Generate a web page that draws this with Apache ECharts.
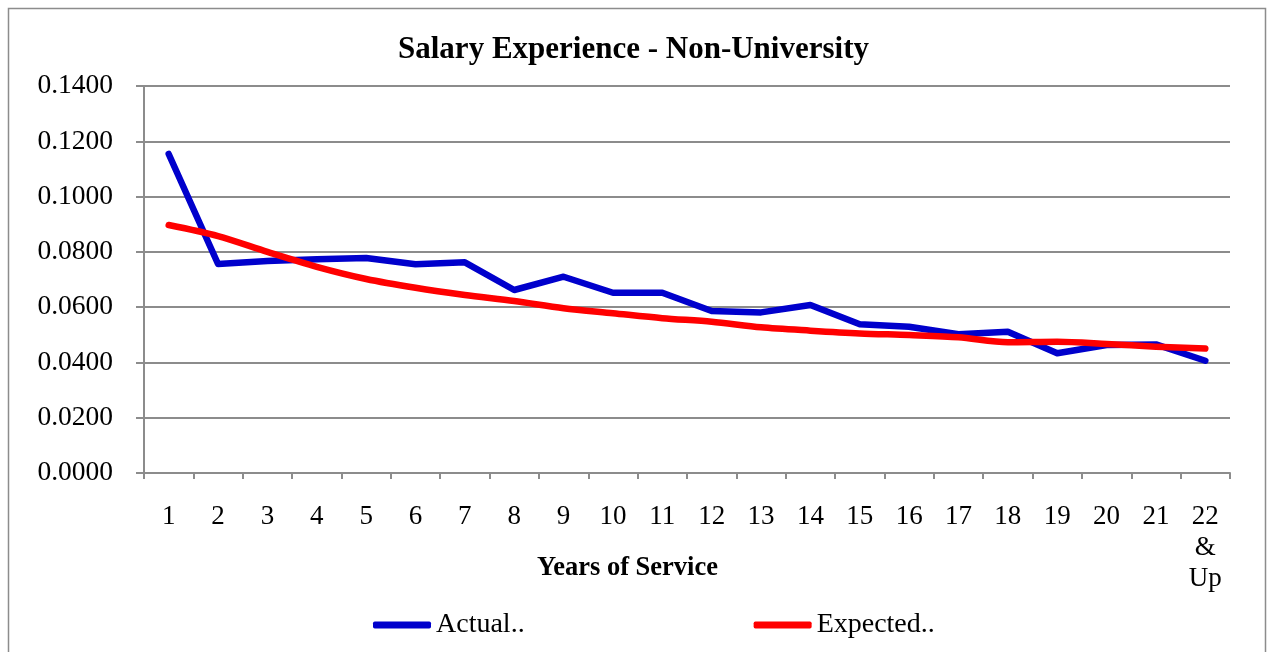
<!DOCTYPE html>
<html>
<head>
<meta charset="utf-8">
<script src="https://cdn.jsdelivr.net/npm/echarts@6/dist/echarts.min.js"></script>
<style>
  html, body { margin: 0; padding: 0; background: #fff; }
  #chart { width: 1267px; height: 652px; }
</style>
</head>
<body>
<div id="chart"></div>
<script>
// years of service
const years = ['1', '2', '3', '4', '5', '6', '7', '8', '9', '10', '11',
               '12', '13', '14', '15', '16', '17', '18', '19', '20', '21', '22\n&\nUp']

const actual = [0.1154, 0.0756, 0.0767, 0.0773, 0.0778, 0.0755, 0.0762, 0.0662, 0.0710, 0.0652, 0.0652,
                0.0586, 0.0581, 0.0608, 0.0538, 0.0529, 0.0502, 0.0511, 0.0433, 0.0463, 0.0465, 0.0406]

const expected = [0.0897, 0.0857, 0.0800, 0.0746, 0.0702, 0.0670, 0.0644, 0.0622, 0.0596, 0.0578, 0.0560,
                  0.0547, 0.0527, 0.0515, 0.0505, 0.0499, 0.0491, 0.0473, 0.0475, 0.0467, 0.0457, 0.0450]

const serif = '"Liberation Serif", "DejaVu Serif", serif'
const gray = '#8c8c8c'

const myChart = echarts.init(document.getElementById('chart'))

const option = {
    backgroundColor: '#fff',
    animation: false,
    textStyle: { fontFamily: serif, color: '#000' },
    title: [
        {
            text: 'Salary Experience - Non-University',
            left: 'center',
            top: 29,
            textStyle: { fontFamily: serif, fontSize: 31, fontWeight: 'bold', color: '#000' }
        },
        {
            text: 'Years of Service',
            left: 532,
            top: 550,
            textStyle: { fontFamily: serif, fontSize: 26.5, fontWeight: 'bold', color: '#000' }
        }
    ],
    graphic: [
        {
            type: 'rect',
            shape: { x: 8.5, y: 8.5, width: 1257, height: 700 },
            style: { fill: 'none', stroke: gray, lineWidth: 1.5 },
            silent: true
        }
    ],
    legend: {
        left: 368,
        top: 606,
        itemWidth: 58,
        itemHeight: 7,
        itemGap: 229,
        icon: 'roundRect',
        textStyle: { fontFamily: serif, fontSize: 28, color: '#000' },
        data: ['Actual..', 'Expected..']
    },
    grid: {
        left: 144,
        right: 37,
        top: 86,
        bottom: 179,
        containLabel: false
    },
    xAxis: {
        type: 'category',
        boundaryGap: true,
        data: years,
        axisLine: { show: true, lineStyle: { color: gray, width: 2 } },
        axisTick: { show: true, length: 6, lineStyle: { color: gray, width: 2 } },
        axisLabel: {
            color: '#000',
            fontFamily: serif,
            fontSize: 27,
            margin: 28,
            interval: 0,
            lineHeight: 31
        },
        splitLine: { show: false }
    },
    yAxis: {
        type: 'value',
        min: 0,
        max: 0.14,
        interval: 0.02,
        axisLine: { show: true, lineStyle: { color: gray, width: 2 } },
        axisTick: { show: true, length: 8, lineStyle: { color: gray, width: 2 } },
        axisLabel: {
            color: '#000',
            fontFamily: serif,
            fontSize: 27.5,
            margin: 31,
            formatter: (v) => v.toFixed(4)
        },
        splitLine: { show: true, lineStyle: { color: gray, width: 2 } }
    },
    series: [
        {
            name: 'Actual..',
            type: 'line',
            data: actual,
            symbol: 'none',
            color: '#0000CC',
            lineStyle: { width: 6.5, color: '#0000CC', cap: 'round', join: 'round' }
        },
        {
            name: 'Expected..',
            type: 'line',
            data: expected,
            symbol: 'none',
            smooth: 0.3,
            color: '#FF0000',
            lineStyle: { width: 6.5, color: '#FF0000', cap: 'round', join: 'round' }
        }
    ]
}

myChart.setOption(option)
window.addEventListener('resize', () => myChart.resize())
</script>
</body>
</html>
